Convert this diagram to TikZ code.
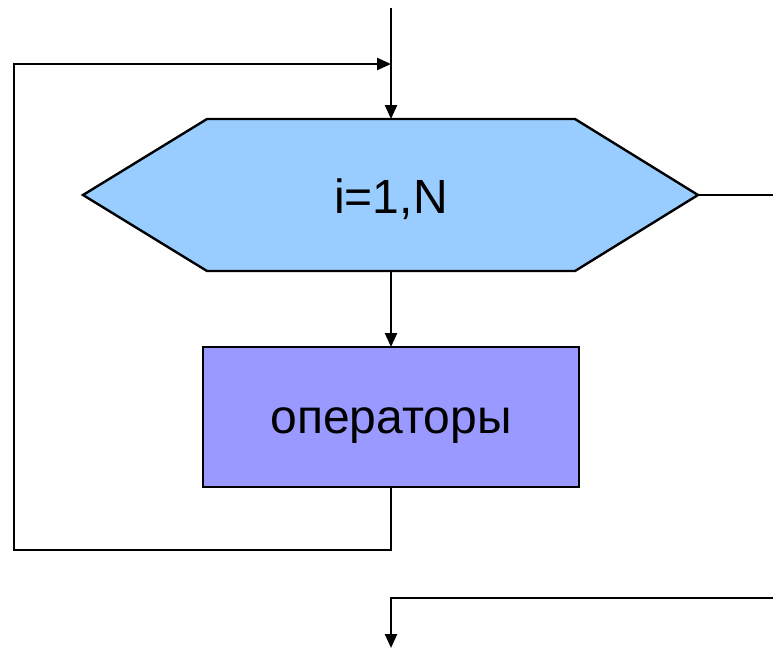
\documentclass[tikz,border=0pt]{standalone}
\usepackage{fontspec}
\setmainfont{Liberation Sans}
\usetikzlibrary{arrows.meta}
\definecolor{hexfill}{HTML}{99CCFF}
\definecolor{boxfill}{HTML}{9999FF}
\begin{document}
\begin{tikzpicture}[x=1pt,y=-1pt,
  conn/.style={line width=2.4pt},
  arr/.style={conn,-{Triangle[width=12pt,length=14pt]}},
  shapeline/.style={line width=2.4pt,line join=miter},
  lbl/.style={font=\fontsize{48}{57}\selectfont,inner sep=0pt,anchor=base}]
\useasboundingbox (0,0) rectangle (773,648);
% hexagon
\coordinate (hL) at (83,195);
\coordinate (hTL) at (207,119);
\coordinate (hT) at (391,119);
\coordinate (hTR) at (575,119);
\coordinate (hR) at (698,195);
\coordinate (hBR) at (575,271);
\coordinate (hB) at (391,271);
\coordinate (hBL) at (207,271);
\filldraw[shapeline,fill=hexfill] (hL) -- (hTL) -- (hTR) -- (hR) -- (hBR) -- (hBL) -- cycle;
\node[lbl] (cond) at (391,213) {i=1,N};
% box
\node[shapeline,draw,fill=boxfill,minimum width=376pt,minimum height=140pt,inner sep=0pt,outer sep=0pt] (ops) at (391,417) {};
\node[lbl] (opstxt) at (391,433) {операторы};
% connectors
\coordinate (top) at (391,8);
\coordinate (loopB) at (391,550);
\coordinate (loopBL) at (14,550);
\coordinate (loopTL) at (14,64);
\coordinate (loopT) at (391,64);
\coordinate (exitR) at (773,195);
\coordinate (exitRB) at (773,598);
\coordinate (exitC) at (391,598);
\coordinate (exitEnd) at (391,648);
\draw[arr] (top) -- (hT);
\draw[arr] (hB) -- (ops.north);
\draw[conn] (ops.south) -- (loopB) -- (loopBL) -- (loopTL);
\draw[arr] (loopBL) -- (loopTL) -- (loopT);
\draw[conn] (hR) -- (exitR);
\draw[arr] (exitRB) -- (exitC) -- (exitEnd);
\end{tikzpicture}
\end{document}
